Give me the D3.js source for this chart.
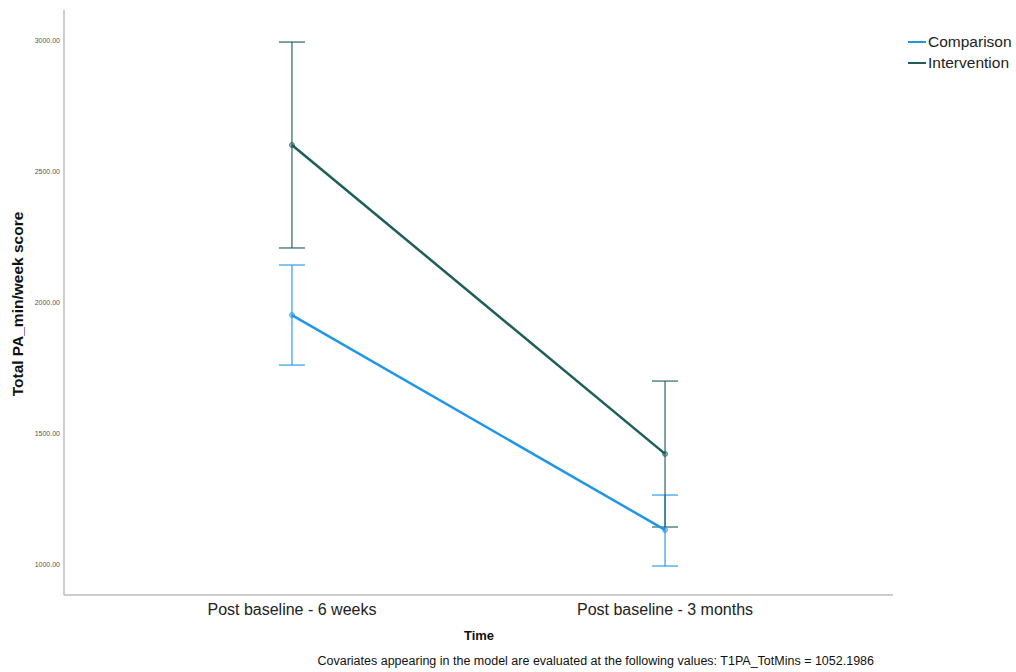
<!DOCTYPE html>
<html>
<head>
<meta charset="utf-8">
<script src="https://cdn.jsdelivr.net/npm/d3@7"></script>
<style>
  body { margin: 0; background: #fff; }
  svg { font-family: "Liberation Sans", Arial, sans-serif; }
</style>
</head>
<body>
<svg id="chart" width="1016" height="672"></svg>
<script>
// Estimated marginal means with 95% CI
const categories = ["Post baseline - 6 weeks", "Post baseline - 3 months"];
const seriesNames = ["Comparison", "Intervention"];
const comparisonMean = [1954, 1134];
const comparisonLow = [1763, 996];
const comparisonHigh = [2145, 1267];
const interventionMean = [2603, 1424];
const interventionLow = [2210, 1145];
const interventionHigh = [2996, 1702];
const yTicks = [1000, 1500, 2000, 2500, 3000];
const colors = ["#2196e8", "#1b5e5a"];

const series = [
  { name: seriesNames[0], mean: comparisonMean, low: comparisonLow, high: comparisonHigh, color: colors[0] },
  { name: seriesNames[1], mean: interventionMean, low: interventionLow, high: interventionHigh, color: colors[1] }
];

const svg = d3.select("#chart");
const plotLeft = 64, plotRight = 893, plotTop = 10, plotBottom = 595;

const x = d3.scalePoint().domain(categories).range([plotLeft, plotRight]).padding(0.611);
const y = d3.scaleLinear().domain([1000, 3000]).range([565, 41]);

// Axes
svg.append("line").attr("x1", plotLeft).attr("x2", plotLeft).attr("y1", plotTop).attr("y2", plotBottom)
  .attr("stroke", "#bdbdbd").attr("stroke-width", 1.5);
svg.append("line").attr("x1", plotLeft).attr("x2", plotRight).attr("y1", plotBottom).attr("y2", plotBottom)
  .attr("stroke", "#bdbdbd").attr("stroke-width", 1.5);

svg.append("g").selectAll("text").data(yTicks).join("text")
  .attr("x", plotLeft - 4).attr("y", d => y(d)).attr("dy", "0.35em")
  .attr("text-anchor", "end").attr("font-size", 7).attr("fill", "#555")
  .text(d => d3.format(".2f")(d));

svg.append("g").selectAll("text").data(categories).join("text")
  .attr("x", d => x(d)).attr("y", 615)
  .attr("text-anchor", "middle").attr("font-size", 16).attr("fill", "#222")
  .text(d => d);

svg.append("text").attr("x", 479).attr("y", 640).attr("text-anchor", "middle")
  .attr("font-size", 13).attr("font-weight", "bold").attr("fill", "#111").text("Time");

svg.append("text").attr("transform", "translate(23,304) rotate(-90)")
  .attr("text-anchor", "middle").attr("font-size", 15.5).attr("font-weight", "bold")
  .attr("fill", "#111").text("Total PA_min/week score");

svg.append("text").attr("x", 874).attr("y", 665).attr("text-anchor", "end")
  .attr("font-size", 12.5).attr("fill", "#111")
  .text("Covariates appearing in the model are evaluated at the following values: T1PA_TotMins = 1052.1986");

// Error bars
series.forEach(s => {
  const g = svg.append("g").attr("stroke", s.color).attr("stroke-opacity", 0.75).attr("stroke-width", 1.5);
  categories.forEach((c, i) => {
    const cx = x(c);
    g.append("line").attr("x1", cx).attr("x2", cx).attr("y1", y(s.high[i])).attr("y2", y(s.low[i]));
    g.append("line").attr("x1", cx - 13).attr("x2", cx + 13).attr("y1", y(s.high[i])).attr("y2", y(s.high[i]));
    g.append("line").attr("x1", cx - 13).attr("x2", cx + 13).attr("y1", y(s.low[i])).attr("y2", y(s.low[i]));
  });
});

// Mean lines and markers
const line = d3.line().x((d, i) => x(categories[i])).y(d => y(d));
series.forEach(s => {
  svg.append("path").datum(s.mean).attr("d", line).attr("fill", "none")
    .attr("stroke", s.color).attr("stroke-width", 2.5);
  svg.append("g").selectAll("circle").data(s.mean).join("circle")
    .attr("cx", (d, i) => x(categories[i])).attr("cy", d => y(d)).attr("r", 2.5)
    .attr("fill", s.color).attr("fill-opacity", 0.4).attr("stroke", s.color).attr("stroke-opacity", 0.7);
});

// Legend
const lg = svg.append("g").selectAll("g").data(series).join("g")
  .attr("transform", (d, i) => `translate(908,${42 + i * 21})`);
lg.append("line").attr("x1", 0).attr("x2", 18).attr("stroke", d => d.color).attr("stroke-width", 2);
lg.append("text").attr("x", 20).attr("dy", "0.35em").attr("font-size", 15.5).attr("fill", "#222").text(d => d.name);
</script>
</body>
</html>
